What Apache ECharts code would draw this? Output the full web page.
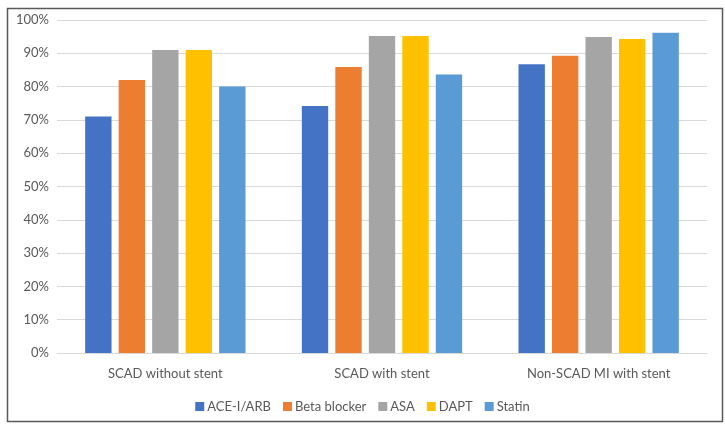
<!DOCTYPE html>
<html>
<head>
<meta charset="utf-8">
<script src="https://cdn.jsdelivr.net/npm/echarts@6/dist/echarts.min.js"></script>
<style>
html,body{margin:0;padding:0;background:#fff;}
#c{width:725px;height:424px;}
</style>
</head>
<body>
<div id="c"></div>
<script>
const categories = ['SCAD without stent', 'SCAD with stent', 'Non-SCAD MI with stent'];
const seriesNames = ['ACE-I/ARB', 'Beta blocker', 'ASA', 'DAPT', 'Statin'];
const aceArb = [71.0, 74.2, 86.7];
const betaBlocker = [82.0, 85.9, 89.3];
const asa = [91.0, 95.2, 94.9];
const dapt = [91.0, 95.2, 94.3];
const statin = [80.0, 83.6, 96.2];
const colors = ['#4472C4', '#ED7D31', '#A5A5A5', '#FFC000', '#5B9BD5'];
const values = [aceArb, betaBlocker, asa, dapt, statin];

const chart = echarts.init(document.getElementById('c'), null, {renderer: 'canvas'});
const font = 'Lato, "Open Sans", sans-serif';
chart.setOption({
  animation: false,
  backgroundColor: '#fff',
  textStyle: {fontFamily: font},
  graphic: [{
    type: 'rect', left: 5, top: 6, shape: {width: 715, height: 413},
    style: {fill: 'none', stroke: '#595959', lineWidth: 1.5}, silent: true
  }],
  grid: {left: 57, right: 18, top: 20, bottom: 71, containLabel: false},
  legend: {
    bottom: 6, left: 'center',
    itemWidth: 9, itemHeight: 9, itemGap: 12, icon: 'rect',
    textStyle: {fontSize: 13, color: '#595959', fontFamily: font, padding: [0, 0, 0, -2]},
    data: seriesNames
  },
  xAxis: {
    type: 'category', data: categories,
    axisLine: {lineStyle: {color: '#d9d9d9', width: 1}},
    axisTick: {show: false},
    axisLabel: {fontSize: 13, color: '#595959', margin: 14, fontFamily: font}
  },
  yAxis: {
    type: 'value', min: 0, max: 100, interval: 10,
    axisLine: {show: false}, axisTick: {show: false},
    splitLine: {lineStyle: {color: '#d9d9d9', width: 1}},
    axisLabel: {fontSize: 13, color: '#595959', margin: 8, formatter: '{value}%', fontFamily: font}
  },
  series: seriesNames.map((n, i) => ({
    name: n, type: 'bar', data: values[i],
    itemStyle: {color: colors[i]},
    barGap: '27%', barCategoryGap: '26%'
  }))
});
</script>
</body>
</html>
